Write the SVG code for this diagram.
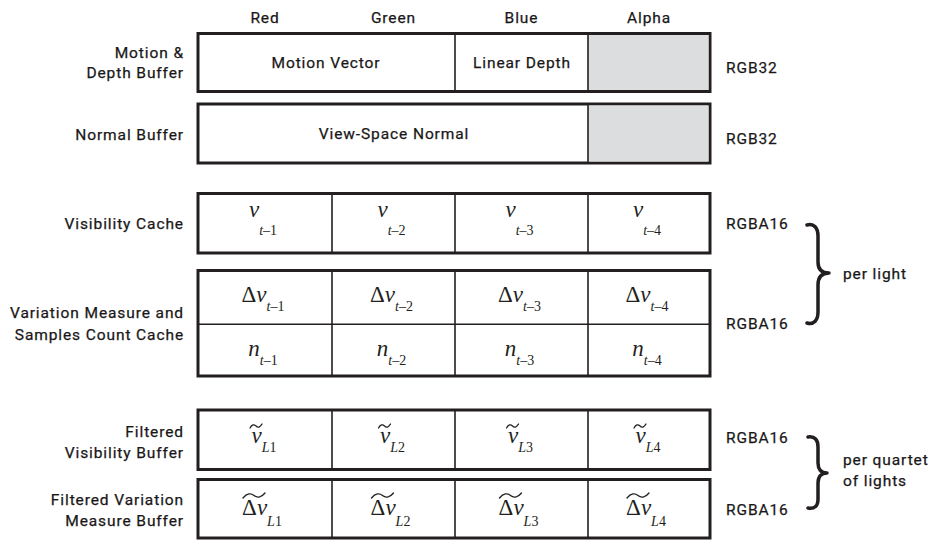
<svg xmlns="http://www.w3.org/2000/svg" width="938" height="554" viewBox="0 0 938 554">
<style>
.lbl{font-family:Roboto,"Liberation Sans",sans-serif;font-size:15.5px;font-weight:400;letter-spacing:0.9px;fill:#1a1718;stroke:#1a1718;stroke-width:0.25px}
.end{text-anchor:end}
.mid{text-anchor:middle}
.box{fill:#fff;stroke:#231f20;stroke-width:3}
.gray{fill:#dcdddf;stroke:none}
.div{stroke:#231f20;stroke-width:1.6;fill:none}
.m{font-family:"Liberation Serif","Times New Roman",serif;font-size:23px;fill:#231f20;text-anchor:middle}
.i{font-style:italic}
.s{font-size:14px}
.brace{fill:none;stroke:#231f20;stroke-width:3.5;stroke-linecap:round;stroke-linejoin:round}
.tl{fill:none;stroke:#231f20;stroke-width:1.3;stroke-linecap:round}
</style>
<defs>
<path id="tsm" class="tl" d="M0,4.5 C2,1 4,0.5 6,2.5 C8,4.5 10,4 12,0.5"/>
<path id="tlg" class="tl" d="M0,5 C4,0 8,0 11,2.5 C14,5 18,5 22,0"/>
</defs>
<rect width="938" height="554" fill="#fff"/>

<g id="headers" class="lbl mid">
<text x="265" y="23">Red</text>
<text x="393.5" y="23">Green</text>
<text x="521.5" y="23">Blue</text>
<text x="649" y="23">Alpha</text>
</g>

<g id="motion-depth-buffer">
<rect class="box" x="198" y="33.5" width="512" height="58"/>
<rect class="gray" x="588" y="35" width="120.5" height="55"/>
<line class="div" x1="455" y1="33.5" x2="455" y2="91.5"/>
<line class="div" x1="588" y1="33.5" x2="588" y2="91.5"/>
<text class="lbl mid" x="326" y="67.5">Motion Vector</text>
<text class="lbl mid" x="522" y="67.5">Linear Depth</text>
<text class="lbl end" x="184" y="57.5">Motion &amp;</text>
<text class="lbl end" x="184" y="77.5">Depth Buffer</text>
<text class="lbl" x="726" y="72.5">RGB32</text>
</g>

<g id="normal-buffer">
<rect class="box" x="198" y="104" width="512" height="59"/>
<rect class="gray" x="588" y="105.5" width="120.5" height="56"/>
<line class="div" x1="588" y1="104" x2="588" y2="163"/>
<text class="lbl mid" x="394" y="139">View-Space Normal</text>
<text class="lbl end" x="184" y="139.5">Normal Buffer</text>
<text class="lbl" x="726" y="144">RGB32</text>
</g>

<g id="visibility-cache">
<rect class="box" x="198" y="193.5" width="512" height="59.5"/>
<line class="div" x1="332" y1="193.5" x2="332" y2="253"/>
<line class="div" x1="455" y1="193.5" x2="455" y2="253"/>
<line class="div" x1="588" y1="193.5" x2="588" y2="253"/>
<text class="m" x="263" y="217"><tspan class="i">v</tspan><tspan class="s i" dy="17.5">t</tspan><tspan class="s">–1</tspan></text>
<text class="m" x="391.5" y="217"><tspan class="i">v</tspan><tspan class="s i" dy="17.5">t</tspan><tspan class="s">–2</tspan></text>
<text class="m" x="519.5" y="217"><tspan class="i">v</tspan><tspan class="s i" dy="17.5">t</tspan><tspan class="s">–3</tspan></text>
<text class="m" x="647" y="217"><tspan class="i">v</tspan><tspan class="s i" dy="17.5">t</tspan><tspan class="s">–4</tspan></text>
<text class="lbl end" x="184" y="228.5">Visibility Cache</text>
<text class="lbl" x="726" y="229">RGBA16</text>
</g>

<g id="variation-measure-cache">
<rect class="box" x="198" y="270.5" width="512" height="105.5"/>
<line class="div" x1="198" y1="324.3" x2="710" y2="324.3"/>
<line class="div" x1="332" y1="270.5" x2="332" y2="376"/>
<line class="div" x1="455" y1="270.5" x2="455" y2="376"/>
<line class="div" x1="588" y1="270.5" x2="588" y2="376"/>
<text class="m" x="263" y="301.5">Δ<tspan class="i">v</tspan><tspan class="s i" dy="9">t</tspan><tspan class="s">–1</tspan></text>
<text class="m" x="391.5" y="301.5">Δ<tspan class="i">v</tspan><tspan class="s i" dy="9">t</tspan><tspan class="s">–2</tspan></text>
<text class="m" x="519.5" y="301.5">Δ<tspan class="i">v</tspan><tspan class="s i" dy="9">t</tspan><tspan class="s">–3</tspan></text>
<text class="m" x="647" y="301.5">Δ<tspan class="i">v</tspan><tspan class="s i" dy="9">t</tspan><tspan class="s">–4</tspan></text>
<text class="m" x="263" y="356"><tspan class="i">n</tspan><tspan class="s i" dy="9">t</tspan><tspan class="s">–1</tspan></text>
<text class="m" x="391.5" y="356"><tspan class="i">n</tspan><tspan class="s i" dy="9">t</tspan><tspan class="s">–2</tspan></text>
<text class="m" x="519.5" y="356"><tspan class="i">n</tspan><tspan class="s i" dy="9">t</tspan><tspan class="s">–3</tspan></text>
<text class="m" x="647" y="356"><tspan class="i">n</tspan><tspan class="s i" dy="9">t</tspan><tspan class="s">–4</tspan></text>
<text class="lbl end" x="184" y="318">Variation Measure and</text>
<text class="lbl end" x="184" y="339.5">Samples Count Cache</text>
<text class="lbl" x="726" y="329">RGBA16</text>
</g>

<g id="filtered-visibility-buffer">
<rect class="box" x="198" y="410" width="512" height="59.5"/>
<line class="div" x1="332" y1="410" x2="332" y2="469.5"/>
<line class="div" x1="455" y1="410" x2="455" y2="469.5"/>
<line class="div" x1="588" y1="410" x2="588" y2="469.5"/>
<text class="m" x="264" y="443"><tspan class="i">v</tspan><tspan class="s i" dy="9">L</tspan><tspan class="s">1</tspan></text>
<text class="m" x="392.5" y="443"><tspan class="i">v</tspan><tspan class="s i" dy="9">L</tspan><tspan class="s">2</tspan></text>
<text class="m" x="520.5" y="443"><tspan class="i">v</tspan><tspan class="s i" dy="9">L</tspan><tspan class="s">3</tspan></text>
<text class="m" x="648" y="443"><tspan class="i">v</tspan><tspan class="s i" dy="9">L</tspan><tspan class="s">4</tspan></text>
<use href="#tsm" x="250" y="423.5"/>
<use href="#tsm" x="378.5" y="423.5"/>
<use href="#tsm" x="506.5" y="423.5"/>
<use href="#tsm" x="634" y="423.5"/>
<text class="lbl end" x="184" y="436.5">Filtered</text>
<text class="lbl end" x="184" y="458">Visibility Buffer</text>
<text class="lbl" x="726" y="442.5">RGBA16</text>
</g>

<g id="filtered-variation-buffer">
<rect class="box" x="198" y="479.5" width="512" height="58.5"/>
<line class="div" x1="332" y1="479.5" x2="332" y2="538"/>
<line class="div" x1="455" y1="479.5" x2="455" y2="538"/>
<line class="div" x1="588" y1="479.5" x2="588" y2="538"/>
<text class="m" x="262" y="515">Δ<tspan class="i">v</tspan><tspan class="s i" dy="11">L</tspan><tspan class="s">1</tspan></text>
<text class="m" x="390.5" y="515">Δ<tspan class="i">v</tspan><tspan class="s i" dy="11">L</tspan><tspan class="s">2</tspan></text>
<text class="m" x="518.5" y="515">Δ<tspan class="i">v</tspan><tspan class="s i" dy="11">L</tspan><tspan class="s">3</tspan></text>
<text class="m" x="646" y="515">Δ<tspan class="i">v</tspan><tspan class="s i" dy="11">L</tspan><tspan class="s">4</tspan></text>
<use href="#tlg" x="243" y="493"/>
<use href="#tlg" x="371.5" y="493"/>
<use href="#tlg" x="499.5" y="493"/>
<use href="#tlg" x="627" y="493"/>
<text class="lbl end" x="184" y="504.5">Filtered Variation</text>
<text class="lbl end" x="184" y="526">Measure Buffer</text>
<text class="lbl" x="726" y="514.5">RGBA16</text>
</g>

<g id="per-light">
<path class="brace" d="M807,225 C814,223 818,228 818,236 L818,262 C818,270 822,273 829,273 C822,273 818,277 818,285 L818,312 C818,320 814,325 807,323"/>
<text class="lbl" x="843" y="279">per light</text>
</g>

<g id="per-quartet">
<path class="brace" d="M808,437 C815,436 818,440 818,447 L818,463 C818,469 821,473 827,473 C821,473 818,477 818,483 L818,499 C818,506 815,509 808,508"/>
<text class="lbl" x="843" y="465">per quartet</text>
<text class="lbl" x="843" y="486">of lights</text>
</g>
</svg>
